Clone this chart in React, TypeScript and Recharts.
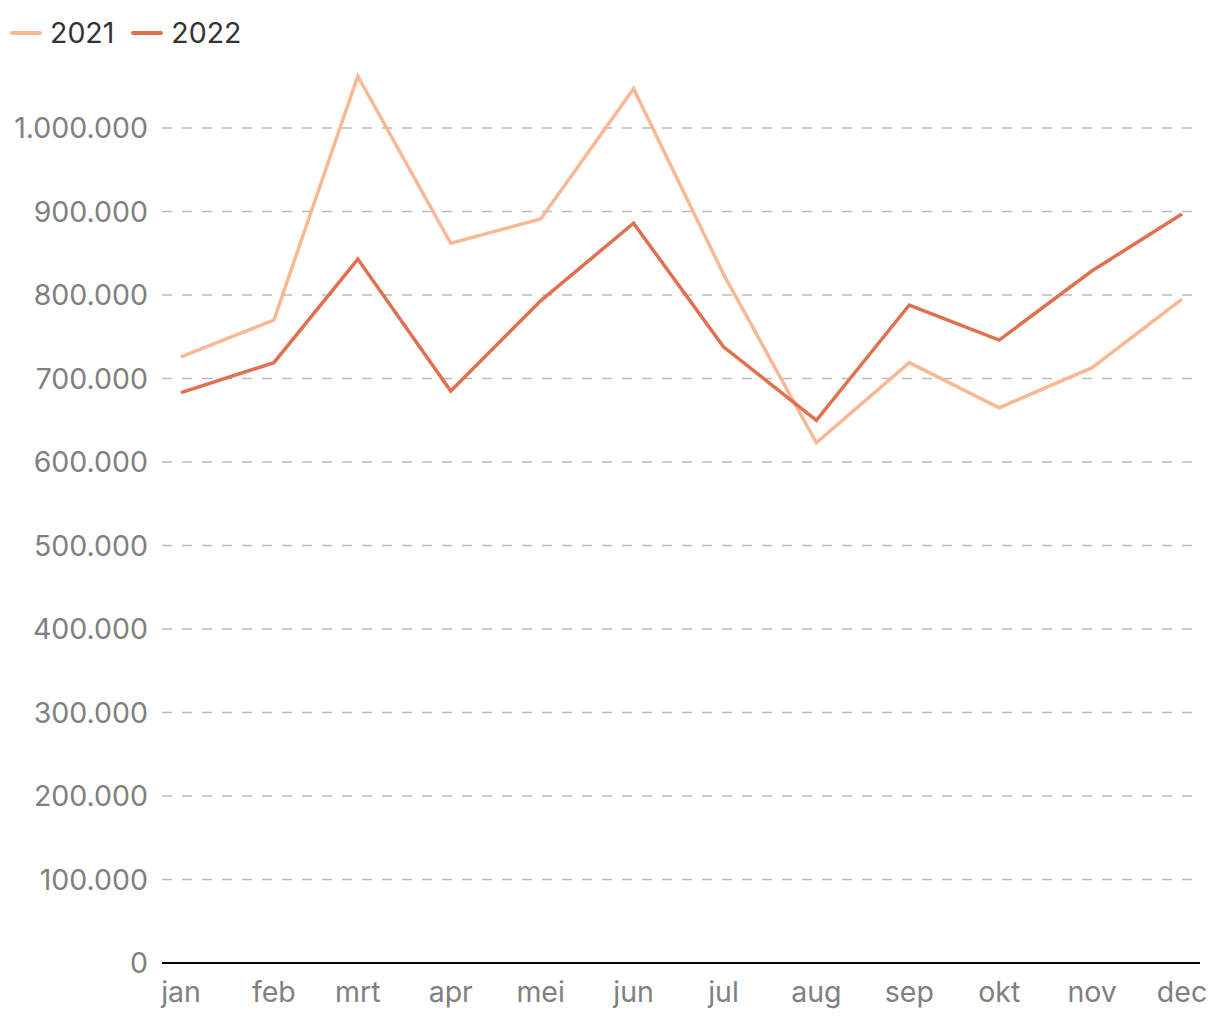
import React from 'react';
import { LineChart, Line, XAxis, YAxis, CartesianGrid } from 'recharts';

// day offsets from 1 jan, so the months are spaced like on a time axis
const monthDays = [0, 31, 59, 90, 120, 151, 181, 212, 243, 273, 304, 334];
const monthLabels = ['jan', 'feb', 'mrt', 'apr', 'mei', 'jun', 'jul', 'aug', 'sep', 'okt', 'nov', 'dec'];

const values2021 = [726000, 770000, 1062000, 862000, 891000, 1047000, 825000, 623000, 719000, 665000, 713000, 795000];
const values2022 = [683000, 719000, 843000, 685000, 793000, 886000, 738000, 650000, 788000, 746000, 829000, 897000];

const yTicks = [0, 100000, 200000, 300000, 400000, 500000, 600000, 700000, 800000, 900000, 1000000];

const series = [
  { key: 'y2021', name: '2021', color: '#F9B894' },
  { key: 'y2022', name: '2022', color: '#E0704F' },
];

const chartData = monthDays.map((day, i) => ({
  day,
  y2021: values2021[i],
  y2022: values2022[i],
}));

const fontFamily = 'Inter, Lato, sans-serif';

const formatThousands = (v: number) =>
  v.toString().replace(/\B(?=(\d{3})+(?!\d))/g, '.');

const monthLabel = (day: number) => monthLabels[monthDays.indexOf(day)] ?? '';

// legend sits above the plot, outside the chart's own layout
const ChartLegend = () => (
  <div
    style={{
      position: 'absolute',
      left: 10,
      top: 15,
      display: 'flex',
      alignItems: 'center',
      fontFamily,
      fontSize: 28.5,
      lineHeight: '36px',
      color: '#333',
    }}
  >
    {series.map(s => (
      <div key={s.key} style={{ display: 'flex', alignItems: 'center', marginRight: 17 }}>
        <span style={{ display: 'inline-block', width: 32, height: 4, borderRadius: 2, background: s.color, marginRight: 8 }} />
        <span>{s.name}</span>
      </div>
    ))}
  </div>
);

export default function App() {
  return (
    <div style={{ position: 'absolute', left: 0, top: 0, width: 1220, height: 1020, background: '#fff' }}>
      <LineChart
        width={1220}
        height={1020}
        data={chartData}
        margin={{ top: 44.5, right: 20, left: 0, bottom: 7 }}
      >
        <CartesianGrid
          horizontal
          vertical={false}
          stroke="#bbbbbb"
          strokeWidth={1.5}
          strokeDasharray="10 10"
          horizontalValues={yTicks.filter(t => t > 0)}
        />
        <XAxis
          dataKey="day"
          type="number"
          domain={[-6.34, 340]}
          ticks={monthDays}
          tickFormatter={monthLabel}
          interval={0}
          allowDataOverflow
          stroke="#000"
          strokeWidth={2}
          tickLine={false}
          tickSize={0}
          tickMargin={19}
          height={50}
          tick={{ fill: '#808080', fontSize: 28.5, fontFamily }}
        />
        <YAxis
          type="number"
          domain={[0, 1100000]}
          ticks={yTicks}
          interval={0}
          allowDataOverflow
          tickFormatter={formatThousands}
          axisLine={false}
          tickLine={false}
          tickSize={0}
          tickMargin={14}
          width={162}
          tick={{ fill: '#808080', fontSize: 28.5, fontFamily }}
        />
        {series.map(s => (
          <Line
            key={s.key}
            dataKey={s.key}
            name={s.name}
            type="linear"
            stroke={s.color}
            strokeWidth={3.5}
            dot={false}
            activeDot={false}
            isAnimationActive={false}
          />
        ))}
      </LineChart>
      <ChartLegend />
    </div>
  );
}
